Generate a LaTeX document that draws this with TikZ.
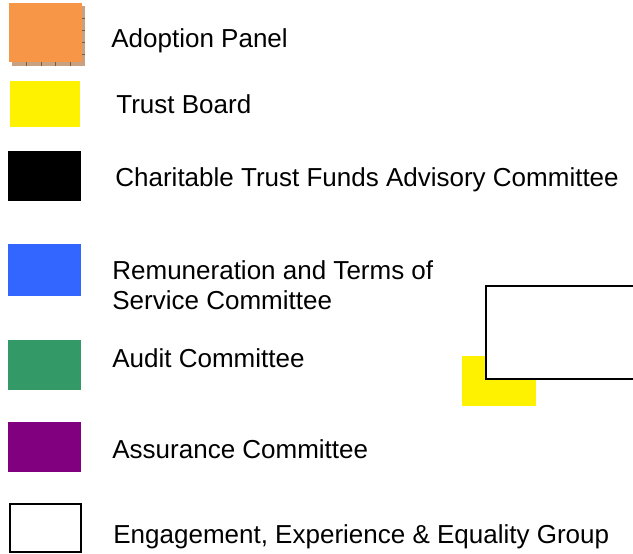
\documentclass[tikz,border=0pt]{standalone}
\usepackage{fontspec}
\setmainfont{Liberation Sans}
\usepackage{tikz}
\usetikzlibrary{patterns}
\definecolor{panelorange}{RGB}{247,150,70}
\definecolor{shadowbrown}{RGB}{200,160,130}
\definecolor{remblue}{RGB}{51,102,255}
\definecolor{auditgreen}{RGB}{51,153,102}
\definecolor{assurpurple}{RGB}{128,0,128}
\tikzstyle{keybox} = [rectangle, inner sep=0pt, anchor=north west,
    minimum width=36.5pt, minimum height=25pt]
\tikzstyle{keytext} = [inner sep=0pt, anchor=base west,
    font=\fontsize{13}{15}\selectfont, align=left]
\tikzstyle{openbox} = [draw=black, line width=1pt, fill=white]

\begin{document}
\begin{tikzpicture}[x=0.5pt, y=-0.5pt]
     \clip (0,0) rectangle (633,553);
     % key boxes
     \node [keybox, fill=shadowbrown, minimum height=30pt] (shadow) at (12,6) {};
     \draw [brown!70!black, line width=0.4pt] \foreach \k in {1,...,4} {(12+\k*14.6,62) -- (12+\k*14.6,66)}
        \foreach \k in {1,...,4} {(82,6+\k*12) -- (85,6+\k*12)};
     \node [keybox, fill=panelorange, minimum height=29.5pt] (adoption) at (9,3) {};
     \node [keybox, fill=yellow, minimum width=35pt, minimum height=23pt] (trustboard) at (10,81) {};
     \node [keybox, fill=black] (charity) at (8,151) {};
     \node [keybox, fill=remblue, minimum height=26pt] (remuneration) at (8,244) {};
     \node [keybox, fill=auditgreen] (audit) at (8,340) {};
     \node [keybox, fill=assurpurple] (assurance) at (8,422) {};
     \node [keybox, openbox, minimum width=35.5pt, minimum height=24pt] (engagement) at (9,503) {};

     % key texts
     \node [keytext] (adoptiontext) at (111,47) {Adoption Panel};
     \node [keytext] (trustboardtext) at (116,113) {Trust Board};
     \node [keytext] (charitytext) at (115,186) {Charitable Trust Funds Advisory Committee};
     \node [keytext, anchor=north west] (remunerationtext) at (112,260) {Remuneration and Terms of\\Service Committee};
     \node [keytext] (audittext) at (112,367) {Audit Committee};
     \node [keytext] (assurancetext) at (112,458) {Assurance Committee};
     \node [keytext] (engagementtext) at (113,543) {Engagement, Experience \& Equality Group};

     % loose shapes on the right
     \node [keybox, fill=yellow, minimum width=37pt, minimum height=25pt] (spareyellow) at (462,356) {};
     \node [keybox, openbox, minimum width=80pt, minimum height=46.5pt] (sparebox) at (485,285) {};
\end{tikzpicture}
\end{document}
